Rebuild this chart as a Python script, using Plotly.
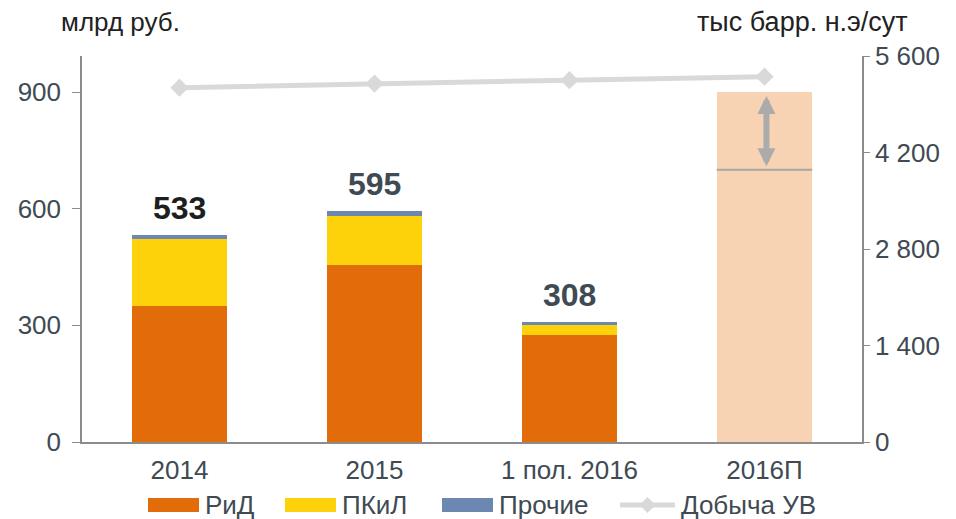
import plotly.graph_objects as go

# ---- data ----
categories = ["2014", "2015", "1 пол. 2016", "2016П"]
series_names = ["РиД", "ПКиЛ", "Прочие"]
rid = [349, 456, 274, None]
pkil = [174, 125, 26, None]
other = [10, 14, 8, None]
forecast_high = [None, None, None, 900]
forecast_low = 700
production_name = "Добыча УВ"
production = [5140, 5200, 5250, 5300]
left_ticks = [0, 300, 600, 900]
right_ticks = [0, 1400, 2800, 4200, 5600]
right_ticktext = ["0", "1 400", "2 800", "4 200", "5 600"]
left_title = "млрд руб."
right_title = "тыс барр. н.э/сут"

# ---- style ----
C_RID = "#E36C0A"
C_PKIL = "#FDD20A"
C_OTH = "#6C87B2"
C_FC = "#F7D3B4"
C_LINE = "#D9D9D9"
C_TXT = "#404A53"
C_AX = "#8C8C8C"
FONT = "Liberation Sans, Arial, sans-serif"
BW = 0.49

# page body has an 8px margin; figure placed at (8, 8) in the window
OFF = 8
WIN_W, WIN_H = 956, 519
W, H = WIN_W - OFF, WIN_H - OFF
# plot area in window pixels: x 82..862, y 56..442
ML, MR, MT, MB = 82 - OFF, WIN_W - 862, 56 - OFF, WIN_H - 442
PW, PH = W - ML - MR, H - MT - MB


def px_x(px):
    return (px - OFF - ML) / PW


def px_y(py):
    return (H - MB - (py - OFF)) / PH


fig = go.Figure()
for name, vals, col in zip(series_names, [rid, pkil, other], [C_RID, C_PKIL, C_OTH]):
    fig.add_trace(go.Bar(x=categories, y=vals, name=name, marker_color=col,
                         marker_line_width=0, width=BW, showlegend=False))
fig.add_trace(go.Bar(x=categories, y=forecast_high, name="2016П", marker_color=C_FC,
                     marker_line_width=0, width=BW, showlegend=False))
fig.add_trace(go.Scatter(x=categories, y=production, name=production_name, yaxis="y2",
                         mode="lines+markers", line=dict(color=C_LINE, width=5),
                         marker=dict(symbol="diamond", size=14, color=C_LINE),
                         showlegend=False))

# totals labels
totals = [sum(v for v in t if v is not None) for t in zip(rid, pkil, other)]
label_colors = ["#1E1E1E", C_TXT, C_TXT]
for i in range(3):
    fig.add_annotation(x=i, y=totals[i], xref="x", yref="y", text=f"<b>{totals[i]}</b>",
                       showarrow=False, yanchor="bottom", yshift=7,
                       font=dict(size=32, color=label_colors[i], family=FONT))

# forecast range: line at low value and double arrow
fc_idx = 3
fig.add_shape(type="line", xref="x", yref="y", x0=fc_idx - BW / 2, x1=fc_idx + BW / 2,
              y0=forecast_low, y1=forecast_low, line=dict(color="#A6A6A6", width=2))
fig.add_annotation(x=fc_idx + 0.01, y=forecast_high[fc_idx] - 10, ax=fc_idx + 0.01,
                   ay=forecast_low + 5,
                   xref="x", yref="y", axref="x", ayref="y", text="", showarrow=True,
                   arrowhead=2, startarrowhead=2, arrowside="end+start",
                   arrowwidth=6, arrowsize=0.6, startarrowsize=0.6, arrowcolor="#ABABAB")

# axis titles
fig.add_annotation(xref="paper", yref="paper", x=px_x(120), y=px_y(22), text=left_title,
                   showarrow=False, xanchor="center", yanchor="middle",
                   font=dict(size=26, color="#222222", family=FONT))
fig.add_annotation(xref="paper", yref="paper", x=px_x(802), y=px_y(22), text=right_title,
                   showarrow=False, xanchor="center", yanchor="middle",
                   font=dict(size=27, color="#222222", family=FONT))

# custom legend
leg_y = 505
items = [(series_names[0], C_RID, 148), (series_names[1], C_PKIL, 285),
         (series_names[2], C_OTH, 442)]
for name, col, x0 in items:
    fig.add_shape(type="rect", xref="paper", yref="paper", x0=px_x(x0), x1=px_x(x0 + 51),
                  y0=px_y(leg_y - 7), y1=px_y(leg_y + 7), fillcolor=col, line_width=0)
    fig.add_annotation(xref="paper", yref="paper", x=px_x(x0 + 55), y=px_y(leg_y),
                       text=name, showarrow=False, xanchor="left", yanchor="middle",
                       font=dict(size=26, color=C_TXT, family=FONT))
lx0, lx1 = 620, 675
fig.add_shape(type="line", xref="paper", yref="paper", x0=px_x(lx0), x1=px_x(lx1),
              y0=px_y(leg_y), y1=px_y(leg_y), line=dict(color=C_LINE, width=5))
cx, d = (lx0 + lx1) / 2, 8
fig.add_shape(type="path", xref="paper", yref="paper",
              path=(f"M {px_x(cx - d)} {px_y(leg_y)} L {px_x(cx)} {px_y(leg_y - d)} "
                    f"L {px_x(cx + d)} {px_y(leg_y)} L {px_x(cx)} {px_y(leg_y + d)} Z"),
              fillcolor=C_LINE, line_width=0)
fig.add_annotation(xref="paper", yref="paper", x=px_x(lx1 + 4), y=px_y(leg_y),
                   text=production_name, showarrow=False, xanchor="left", yanchor="middle",
                   font=dict(size=26, color=C_TXT, family=FONT))

fig.update_layout(
    width=W, height=H, barmode="stack",
    margin=dict(l=ML, r=MR, t=MT, b=MB, autoexpand=False),
    paper_bgcolor="white", plot_bgcolor="white",
    font=dict(family=FONT, size=26, color=C_TXT),
    showlegend=False,
    xaxis=dict(type="category", showline=True, linecolor=C_AX, linewidth=1.5,
               ticks="", showgrid=False, tickfont=dict(size=26, color=C_TXT),
               ticklabelstandoff=4, range=[-0.5, 3.5]),
    yaxis=dict(range=[0, 992.6], tickvals=left_ticks, showline=True, linecolor=C_AX,
               linewidth=1.5, ticks="outside", ticklen=8, tickcolor=C_AX, showgrid=False,
               zeroline=False, ticklabelstandoff=6, tickfont=dict(size=26, color=C_TXT)),
    yaxis2=dict(range=[0, 5600], overlaying="y", side="right", tickvals=right_ticks,
                ticktext=right_ticktext, showline=True, linecolor=C_AX, linewidth=1.5,
                ticks="outside", ticklen=6, tickcolor=C_AX, showgrid=False, zeroline=False,
                tickfont=dict(size=26, color=C_TXT)),
)

fig.write_html("out.html")
